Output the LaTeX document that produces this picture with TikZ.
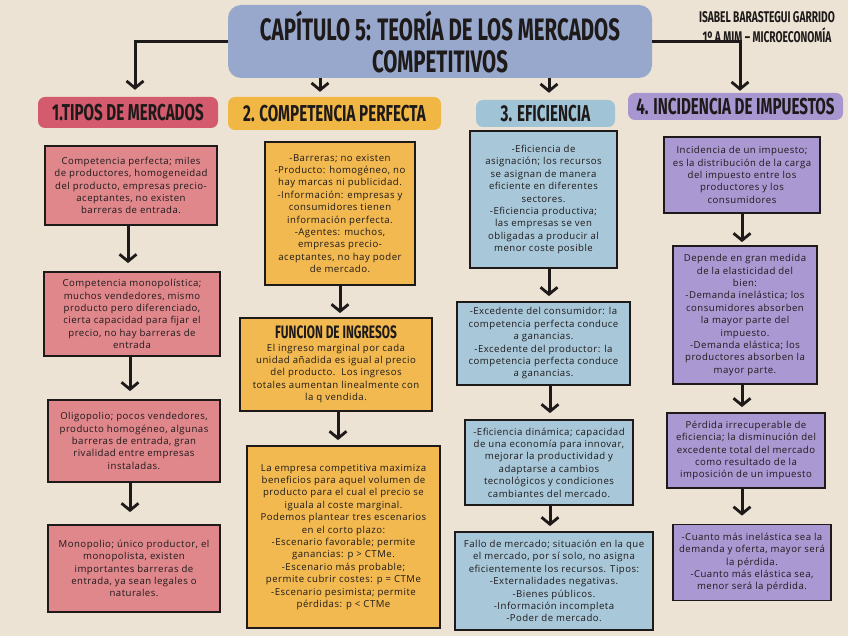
\documentclass[tikz,border=0pt]{standalone}
\usepackage{fontspec}
\setmainfont[LetterSpace=5]{Open Sans}
\newfontfamily\hfont[FakeStretch=0.66]{Fira Sans}
\usetikzlibrary{arrows.meta}
\definecolor{bg}{RGB}{237,227,212}
\definecolor{ctitle}{RGB}{152,168,204}
\definecolor{hred}{RGB}{212,90,110}
\definecolor{horange}{RGB}{240,183,69}
\definecolor{hblue}{RGB}{160,196,214}
\definecolor{hpurple}{RGB}{168,150,208}
\definecolor{bpink}{RGB}{224,135,140}
\definecolor{borange}{RGB}{242,185,80}
\definecolor{bblue}{RGB}{168,200,218}
\definecolor{bpurple}{RGB}{170,152,210}
\definecolor{ink}{RGB}{30,26,26}
\tikzset{
  box/.style={draw=ink, line width=1.8pt, inner sep=2pt, align=center, text=ink,
    font=\fontsize{9.6}{12.4}\selectfont},
  hdr/.style={rounded corners=7pt, inner sep=0pt, align=center, text=ink,
    font=\hfont\bfseries\fontsize{23}{24}\selectfont},
  tip/.style={-{Straight Barb[length=7pt,width=17pt,line width=2.8pt]}},
  arr/.style={line width=3pt, ink, tip, shorten >=5pt},
  link/.style={line width=3pt, ink},
}
\begin{document}
\begin{tikzpicture}[x=1pt,y=-1pt]
\fill[bg] (0,0) rectangle (848,636);
\useasboundingbox (0,0) rectangle (848,636);

% title
\node[hdr, fill=ctitle, rounded corners=13pt, minimum width=424pt, minimum height=73pt,
  font=\hfont\bfseries\fontsize{31}{32}\selectfont] (title) at (440,41.5)
  {CAPÍTULO 5: TEORÍA DE LOS MERCADOS\\COMPETITIVOS};
\node[align=center, text=ink, font=\hfont\bfseries\fontsize{15.5}{20}\selectfont] (author) at (767,27)
  {ISABEL BARASTEGUI GARRIDO\\1º A MIM – MICROECONOMÍA};

% headers
\node[hdr, fill=hred, minimum width=180pt, minimum height=31pt] (h1) at (128,112.5) {1.TIPOS DE MERCADOS};
\node[hdr, fill=horange, minimum width=213pt, minimum height=33pt] (h2) at (334.5,113.5) {2. COMPETENCIA PERFECTA};
\node[hdr, fill=hblue, minimum width=139pt, minimum height=27pt] (h3) at (545.5,113.5) {3. EFICIENCIA};
\node[hdr, fill=hpurple, minimum width=215pt, minimum height=27pt] (h4) at (735.5,106.5) {4. INCIDENCIA DE IMPUESTOS};

\coordinate (c1) at (135,0);
\coordinate (c2) at (320,0);
\coordinate (c3) at (549,0);
\coordinate (c4) at (740,0);
\draw[link, tip, shorten >=7pt] (title.west) -| (h1.north -| c1);
\draw[arr] (title.south -| c2) -- (h2.north -| c2);
\draw[arr, shorten >=7pt] (title.south -| c3) -- (h3.north -| c3);
\draw[link, tip, shorten >=2pt] (title.east) -| (h4.north -| c4);

% column 1
\node[box, fill=bpink, minimum width=172pt, minimum height=79pt] (b11) at (131,185.5)
  {Competencia perfecta; miles\\de productores, homogeneidad\\del producto, empresas precio-\\aceptantes, no existen\\barreras de entrada.};
\node[box, fill=bpink, minimum width=176pt, minimum height=84pt] (b12) at (132,314)
  {Competencia monopolística;\\muchos vendedores, mismo\\producto pero diferenciado,\\cierta capacidad para fijar el\\precio, no hay barreras de\\entrada};
\node[box, fill=bpink, minimum width=172pt, minimum height=82pt] (b13) at (134,441)
  {Oligopolio; pocos vendedores,\\producto homogéneo, algunas\\barreras de entrada, gran\\rivalidad entre empresas\\instaladas.};
\node[box, fill=bpink, minimum width=172pt, minimum height=87pt] (b14) at (134,568.5)
  {Monopolio; único productor, el\\monopolista, existen\\importantes barreras de\\entrada, ya sean legales o\\naturales.};

% column 2
\node[box, fill=borange, minimum width=150pt, minimum height=143pt] (b21) at (340,213.5)
  {-Barreras; no existen\\-Producto: homogéneo, no\\hay marcas ni publicidad.\\-Información: empresas y\\consumidores tienen\\información perfecta.\\-Agentes: muchos,\\empresas precio-\\aceptantes, no hay poder\\de mercado.};
\node[box, fill=borange, minimum width=192pt, minimum height=93pt] (b22) at (336,364.5)
  {{\hfont\bfseries\fontsize{18}{18}\selectfont FUNCION DE INGRESOS}\\El ingreso marginal por cada\\unidad añadida es igual al precio\\del producto.\ \ Los ingresos\\totales aumentan linealmente con\\la q vendida.};
\node[box, fill=borange, minimum width=193pt, minimum height=182pt] (b23) at (343.5,537)
  {La empresa competitiva maximiza\\beneficios para aquel volumen de\\producto para el cual el precio se\\iguala al coste marginal.\\Podemos plantear tres escenarios\\en el corto plazo:\\-Escenario favorable; permite\\ganancias: p > CTMe.\\-Escenario más probable;\\permite cubrir costes: p = CTMe\\-Escenario pesimista; permite\\pérdidas: p < CTMe};

% column 3
\node[box, fill=bblue, minimum width=147pt, minimum height=137pt] (b31) at (543.5,199.5)
  {-Eficiencia de\\asignación; los recursos\\se asignan de manera\\eficiente en diferentes\\sectores.\\-Eficiencia productiva;\\las empresas se ven\\obligadas a producir al\\menor coste posible};
\node[box, fill=bblue, minimum width=173pt, minimum height=83pt] (b32) at (543.5,343.5)
  {-Excedente del consumidor: la\\competencia perfecta conduce\\a ganancias.\\-Excedente del productor: la\\competencia perfecta conduce\\a ganancias.};
\node[box, fill=bblue, minimum width=168pt, minimum height=85pt] (b33) at (549,462.5)
  {-Eficiencia dinámica; capacidad\\de una economía para innovar,\\mejorar la productividad y\\adaptarse a cambios\\tecnológicos y condiciones\\cambiantes del mercado.};
\node[box, fill=bblue, minimum width=198pt, minimum height=98pt, inner sep=1pt] (b34) at (554,581)
  {Fallo de mercado; situación en la que\\el mercado, por sí solo, no asigna\\eficientemente los recursos. Tipos:\\-Externalidades negativas.\\-Bienes públicos.\\-Información incompleta\\-Poder de mercado.};

% column 4
\node[box, fill=bpurple, minimum width=156pt, minimum height=76pt] (b41) at (742,175)
  {Incidencia de un impuesto;\\es la distribución de la carga\\del impuesto entre los\\productores y los\\consumidores};
\node[box, fill=bpurple, minimum width=144pt, minimum height=138pt] (b42) at (745,315)
  {Depende en gran medida\\de la elasticidad del\\bien:\\-Demanda inelástica; los\\consumidores absorben\\la mayor parte del\\impuesto.\\-Demanda elástica; los\\productores absorben la\\mayor parte.};
\node[box, fill=bpurple, minimum width=158pt, minimum height=75pt] (b43) at (746,450.5)
  {Pérdida irrecuperable de\\eficiencia; la disminución del\\excedente total del mercado\\como resultado de la\\imposición de un impuesto};
\node[box, fill=bpurple, minimum width=158pt, minimum height=76pt] (b44) at (752,562.5)
  {-Cuanto más inelástica sea la\\demanda y oferta, mayor será\\la pérdida.\\-Cuanto más elástica sea,\\menor será la pérdida.};

% arrows
\draw[arr, shorten >=8pt] (b11.south -| 128,0) -- (b12.north -| 128,0);
\draw[arr, shorten >=8pt] (b12.south -| 130,0) -- (b13.north -| 130,0);
\draw[arr, shorten >=12pt] (b13.south -| 130,0) -- (b14.north -| 130,0);
\draw[arr, shorten >=4pt] (b21.south) -- (b22.north -| b21.south);
\draw[arr, shorten >=5pt] (b22.south -| 338,0) -- (b23.north -| 338,0);
\draw[arr, shorten >=5pt] (b31.south -| 549,0) -- (b32.north -| 549,0);
\draw[arr, shorten >=6pt] (b32.south -| 550,0) -- (b33.north -| 550,0);
\draw[arr, shorten >=5pt] (b33.south -| 550,0) -- (b34.north -| 550,0);
\draw[arr, shorten >=3pt] (b41.south) -- (b42.north -| b41.south);
\draw[arr, shorten >=5pt] (b42.south -| 742,0) -- (b43.north -| 742,0);
\draw[arr, shorten >=8pt] (b43.south -| 742,0) -- (b44.north -| 742,0);
\end{tikzpicture}
\end{document}
